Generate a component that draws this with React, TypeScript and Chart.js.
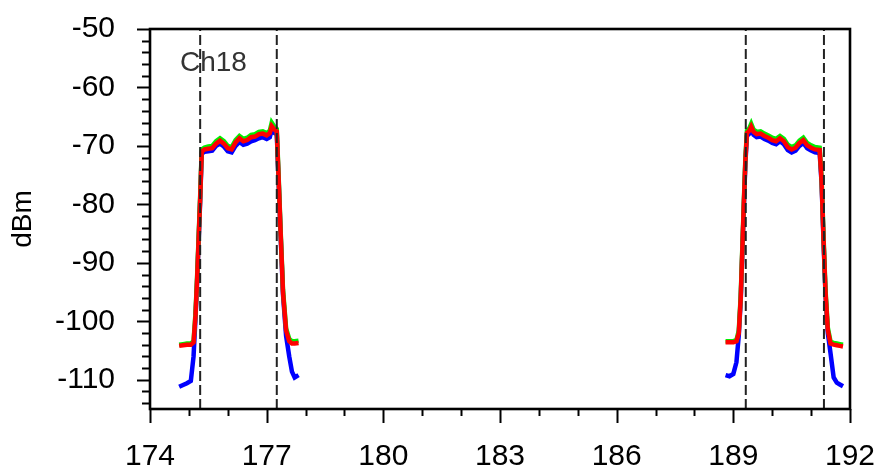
import React, { useEffect, useRef } from "react";
import { Chart, registerables } from "chart.js";
Chart.register(...registerables);

const xTicks = [174, 177, 180, 183, 186, 189, 192];
const yTicks = [-110, -100, -90, -80, -70, -60, -50];
const xAxisMin = 174;
const xAxisMax = 192;
const yAxisMin = -115;
const yAxisMax = -50;
const channelEdges = [175.29, 177.26, 189.32, 191.33];
const channelLabel = "Ch18";
const channelLabelPos = { x: 174.77, y: -55.8 };

const freqLeft = [
  174.75, 174.85, 174.95, 175.05, 175.12, 175.17, 175.21, 175.25, 175.29, 175.33,
  175.4, 175.5, 175.6, 175.7, 175.8, 175.9, 176.0, 176.1, 176.2, 176.3,
  176.4, 176.5, 176.6, 176.7, 176.8, 176.9, 177.0, 177.08, 177.13, 177.2,
  177.26, 177.31, 177.36, 177.42, 177.5, 177.58, 177.65, 177.72, 177.82,
];
const redLeft = [
  -104.2, -104.1, -104.0, -104.0, -103.6, -99.0, -93.0, -86.0, -79.0, -71.0,
  -70.6, -70.5, -70.4, -69.6, -69.1, -69.6, -70.4, -70.6, -69.4, -68.7,
  -69.2, -69.0, -68.5, -68.4, -68.0, -67.9, -68.2, -67.8, -66.6, -67.2,
  -67.5, -76.0, -85.0, -95.0, -101.6, -103.4, -103.8, -103.8, -103.7,
];
const greenLeft = [
  -104.0, -103.9, -103.8, -103.8, -103.4, -98.6, -92.6, -85.6, -78.6, -70.6,
  -70.3, -70.1, -70.0, -69.2, -68.7, -69.2, -70.0, -70.2, -69.0, -68.3,
  -68.8, -68.6, -68.1, -68.0, -67.6, -67.5, -67.8, -67.4, -66.0, -66.7,
  -67.1, -75.6, -84.6, -94.6, -101.2, -103.0, -103.4, -103.4, -103.3,
];
const blueLeft = [
  -111.2, -110.9, -110.6, -110.2, -106.0, -99.4, -93.4, -86.4, -79.4, -71.3,
  -71.0, -70.9, -70.8, -70.0, -69.6, -70.1, -70.9, -71.1, -70.0, -69.3,
  -69.8, -69.6, -69.2, -69.0, -68.7, -68.5, -68.8, -68.5, -67.2, -67.8,
  -68.0, -76.4, -85.4, -95.4, -102.5, -106.0, -108.6, -109.6, -109.2,
];

const freqRight = [
  188.8, 188.9, 189.0, 189.08, 189.14, 189.19, 189.23, 189.27, 189.31, 189.35,
  189.41, 189.46, 189.52, 189.6, 189.7, 189.8, 189.9, 190.0, 190.1, 190.2,
  190.3, 190.4, 190.5, 190.6, 190.7, 190.8, 190.9, 191.0, 191.1, 191.22,
  191.27, 191.32, 191.37, 191.43, 191.5, 191.58, 191.66, 191.74, 191.82,
];
const redRight = [
  -103.6, -103.6, -103.6, -103.4, -102.0, -96.0, -88.0, -80.0, -72.5, -67.8,
  -67.4, -66.7, -67.6, -68.0, -67.9, -68.3, -68.6, -69.0, -69.2, -68.7,
  -69.2, -70.2, -70.6, -70.3, -69.5, -69.0, -69.9, -70.3, -70.6, -70.7,
  -76.0, -86.0, -95.0, -101.5, -103.8, -104.0, -104.1, -104.2, -104.3,
];
const greenRight = [
  -103.4, -103.4, -103.4, -103.2, -101.6, -95.6, -87.6, -79.6, -72.1, -67.4,
  -67.0, -66.2, -67.2, -67.6, -67.5, -67.9, -68.2, -68.6, -68.8, -68.3,
  -68.8, -69.8, -70.2, -69.9, -69.1, -68.6, -69.5, -69.9, -70.2, -70.3,
  -75.6, -85.6, -94.6, -101.1, -103.5, -103.7, -103.8, -103.9, -104.0,
];
const blueRight = [
  -109.2, -109.4, -109.0, -107.0, -102.4, -96.4, -88.4, -80.4, -72.9, -68.3,
  -67.9, -67.2, -68.1, -68.5, -68.4, -68.8, -69.1, -69.5, -69.7, -69.2,
  -69.7, -70.7, -71.1, -70.8, -70.0, -69.5, -70.4, -70.8, -71.1, -71.2,
  -76.4, -86.4, -95.4, -102.0, -105.5, -109.6, -110.5, -110.8, -111.1,
];

const FONT_FAMILY = '"Liberation Sans", Arial, Helvetica, sans-serif';

const toPoints = (xs: number[], ys: number[]) => xs.map((x, i) => ({ x, y: ys[i] }));

const framePlugin = {
  id: "frameTicks",
  afterDraw(chart: any) {
    const { ctx, chartArea: a, scales } = chart;
    const xs = scales.x;
    const ys = scales.y;
    ctx.save();
    ctx.strokeStyle = "#000";
    ctx.lineWidth = 2;
    for (let v = Math.ceil(yAxisMin / 2) * 2; v <= yAxisMax; v += 2) {
      const py = Math.round(ys.getPixelForValue(v)) + 0.5;
      const len = v % 10 === 0 ? 13 : 8;
      ctx.beginPath();
      ctx.moveTo(a.left - len, py);
      ctx.lineTo(a.left, py);
      ctx.stroke();
    }
    for (let v = xAxisMin; v <= xAxisMax; v += 1) {
      const px = Math.round(xs.getPixelForValue(v)) + 0.5;
      const len = (v - xAxisMin) % 3 === 0 ? 14 : 7;
      ctx.beginPath();
      ctx.moveTo(px, a.bottom);
      ctx.lineTo(px, a.bottom + len);
      ctx.stroke();
    }
    ctx.lineWidth = 2.6;
    ctx.strokeRect(a.left, a.top, a.right - a.left, a.bottom - a.top);
    ctx.fillStyle = "#333";
    ctx.font = `28px ${FONT_FAMILY}`;
    ctx.textAlign = "left";
    ctx.textBaseline = "middle";
    ctx.fillText(channelLabel, xs.getPixelForValue(channelLabelPos.x), ys.getPixelForValue(channelLabelPos.y));
    ctx.restore();
  },
};

export default function App() {
  const ref = useRef<HTMLCanvasElement | null>(null);

  useEffect(() => {
    document.body.style.margin = "0";
    const canvas = ref.current;
    if (!canvas) return;

    const lineDs = (label: string, xs: number[], ys: number[], color: string, order: number) => ({
      label,
      data: toPoints(xs, ys),
      borderColor: color,
      backgroundColor: color,
      borderWidth: 4.5,
      pointRadius: 0,
      tension: 0,
      fill: false,
      order,
    });

    const edgeDs = channelEdges.map((e, i) => ({
      label: "edge" + i,
      data: [
        { x: e, y: yAxisMin },
        { x: e, y: yAxisMax },
      ],
      borderColor: "#222",
      borderWidth: 2,
      borderDash: [10, 4],
      pointRadius: 0,
      fill: false,
      order: 0,
    }));

    const tickFont = { family: FONT_FAMILY, size: 30 };

    const chart = new Chart(canvas, {
      type: "line",
      data: {
        datasets: [
          ...edgeDs,
          lineDs("red L", freqLeft, redLeft, "#ff0000", 1),
          lineDs("red R", freqRight, redRight, "#ff0000", 1),
          lineDs("green L", freqLeft, greenLeft, "#00ee00", 2),
          lineDs("green R", freqRight, greenRight, "#00ee00", 2),
          lineDs("blue L", freqLeft, blueLeft, "#0000ff", 3),
          lineDs("blue R", freqRight, blueRight, "#0000ff", 3),
        ] as any,
      },
      options: {
        animation: false,
        responsive: false,
        maintainAspectRatio: false,
        layout: { padding: { left: 0, right: 28, top: 29, bottom: 0 } },
        plugins: { legend: { display: false }, tooltip: { enabled: false } },
        scales: {
          x: {
            type: "linear",
            min: xAxisMin,
            max: xAxisMax,
            afterBuildTicks: (s: any) => {
              s.ticks = xTicks.map((v) => ({ value: v }));
            },
            afterFit: (s: any) => {
              s.height = 61;
              s.paddingLeft = 0;
              s.paddingRight = 0;
              s.paddingTop = 0;
              s.paddingBottom = 0;
            },
            grid: { display: false, drawTicks: false },
            border: { display: false },
            ticks: {
              padding: 30,
              font: tickFont,
              color: "#000",
              maxRotation: 0,
              autoSkip: false,
              callback: (v: any) => String(v),
            },
          },
          y: {
            type: "linear",
            min: yAxisMin,
            max: yAxisMax,
            afterBuildTicks: (s: any) => {
              s.ticks = yTicks.map((v) => ({ value: v }));
            },
            afterFit: (s: any) => {
              s.width = 150;
              s.paddingLeft = 0;
              s.paddingRight = 0;
              s.paddingTop = 0;
              s.paddingBottom = 0;
            },
            grid: { display: false, drawTicks: false },
            border: { display: false },
            ticks: {
              padding: 35,
              font: tickFont,
              color: "#000",
              autoSkip: false,
              callback: (v: any) => String(v),
            },
            title: {
              display: true,
              text: "dBm",
              font: { family: FONT_FAMILY, size: 28 },
              color: "#000",
              padding: { top: 6, bottom: 0 },
            },
          },
        },
      } as any,
      plugins: [framePlugin],
    });

    return () => chart.destroy();
  }, []);

  return (
    <div style={{ width: 878, height: 470, background: "#fff" }}>
      <canvas ref={ref} width={878} height={470} style={{ display: "block" }} />
    </div>
  );
}
